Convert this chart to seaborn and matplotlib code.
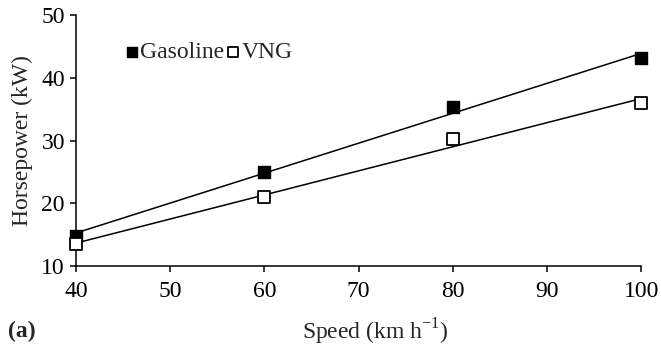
import matplotlib
matplotlib.use("Agg")
import matplotlib.pyplot as plt
import seaborn as sns
import pandas as pd

speed = [40, 60, 80, 100]
gasoline = [14.8, 25.0, 35.4, 43.1]
vng = [13.5, 21.0, 30.2, 36.0]

sns.set_style("ticks")
plt.rcParams["font.family"] = ["Liberation Serif", "DejaVu Serif"]
plt.rcParams["mathtext.fontset"] = "custom"
plt.rcParams["mathtext.rm"] = "Liberation Serif"

FS = 17

fig = plt.figure(figsize=(6.61, 3.47), dpi=100)
ax = fig.add_axes([0.115, 0.233, 0.855, 0.724])

df_g = pd.DataFrame({"speed": speed, "hp": gasoline})
df_v = pd.DataFrame({"speed": speed, "hp": vng})

sns.regplot(data=df_g, x="speed", y="hp", ax=ax, ci=None, marker="s",
            label="Gasoline",
            scatter_kws=dict(s=85, color="black", edgecolors="black", linewidths=1.0,
                             alpha=1, zorder=3),
            line_kws=dict(color="black", lw=1.1, zorder=2))
sns.regplot(data=df_v, x="speed", y="hp", ax=ax, ci=None, marker="s",
            label="VNG",
            scatter_kws=dict(s=85, facecolors="white", edgecolors="black", linewidths=1.3,
                             alpha=1, zorder=3),
            line_kws=dict(color="black", lw=1.1, zorder=2))

ax.set_xlim(40, 100)
ax.set_ylim(10, 50)
ax.set_xticks([40, 50, 60, 70, 80, 90, 100])
ax.set_yticks([10, 20, 30, 40, 50])
sns.despine(ax=ax)
for s in ["left", "bottom"]:
    ax.spines[s].set_linewidth(1.1)
    ax.spines[s].set_color("black")
ax.tick_params(axis="both", direction="out", length=4.5, width=1.1, colors="black",
               labelsize=FS)
ax.tick_params(axis="x", pad=6)
ax.tick_params(axis="y", pad=3.5)
ax.set_xlabel("Speed (km h$^{-1}$)", fontsize=FS)
ax.xaxis.set_label_coords(0.53, -0.2)
ax.set_ylabel("Horsepower (kW)", fontsize=FS)
ax.yaxis.set_label_coords(-0.076, 0.5)
for c in ax.collections:
    c.set_clip_on(False)

ax.legend(loc="upper left", bbox_to_anchor=(0.07, 0.93), ncol=2, frameon=False,
          fontsize=FS, markerscale=0.85, handlelength=0.55, handletextpad=0.1,
          columnspacing=0.1, borderaxespad=0)

fig.text(0.012, 0.03, "(a)", fontsize=FS, fontweight="bold")

fig.savefig("out.png", dpi=100)
